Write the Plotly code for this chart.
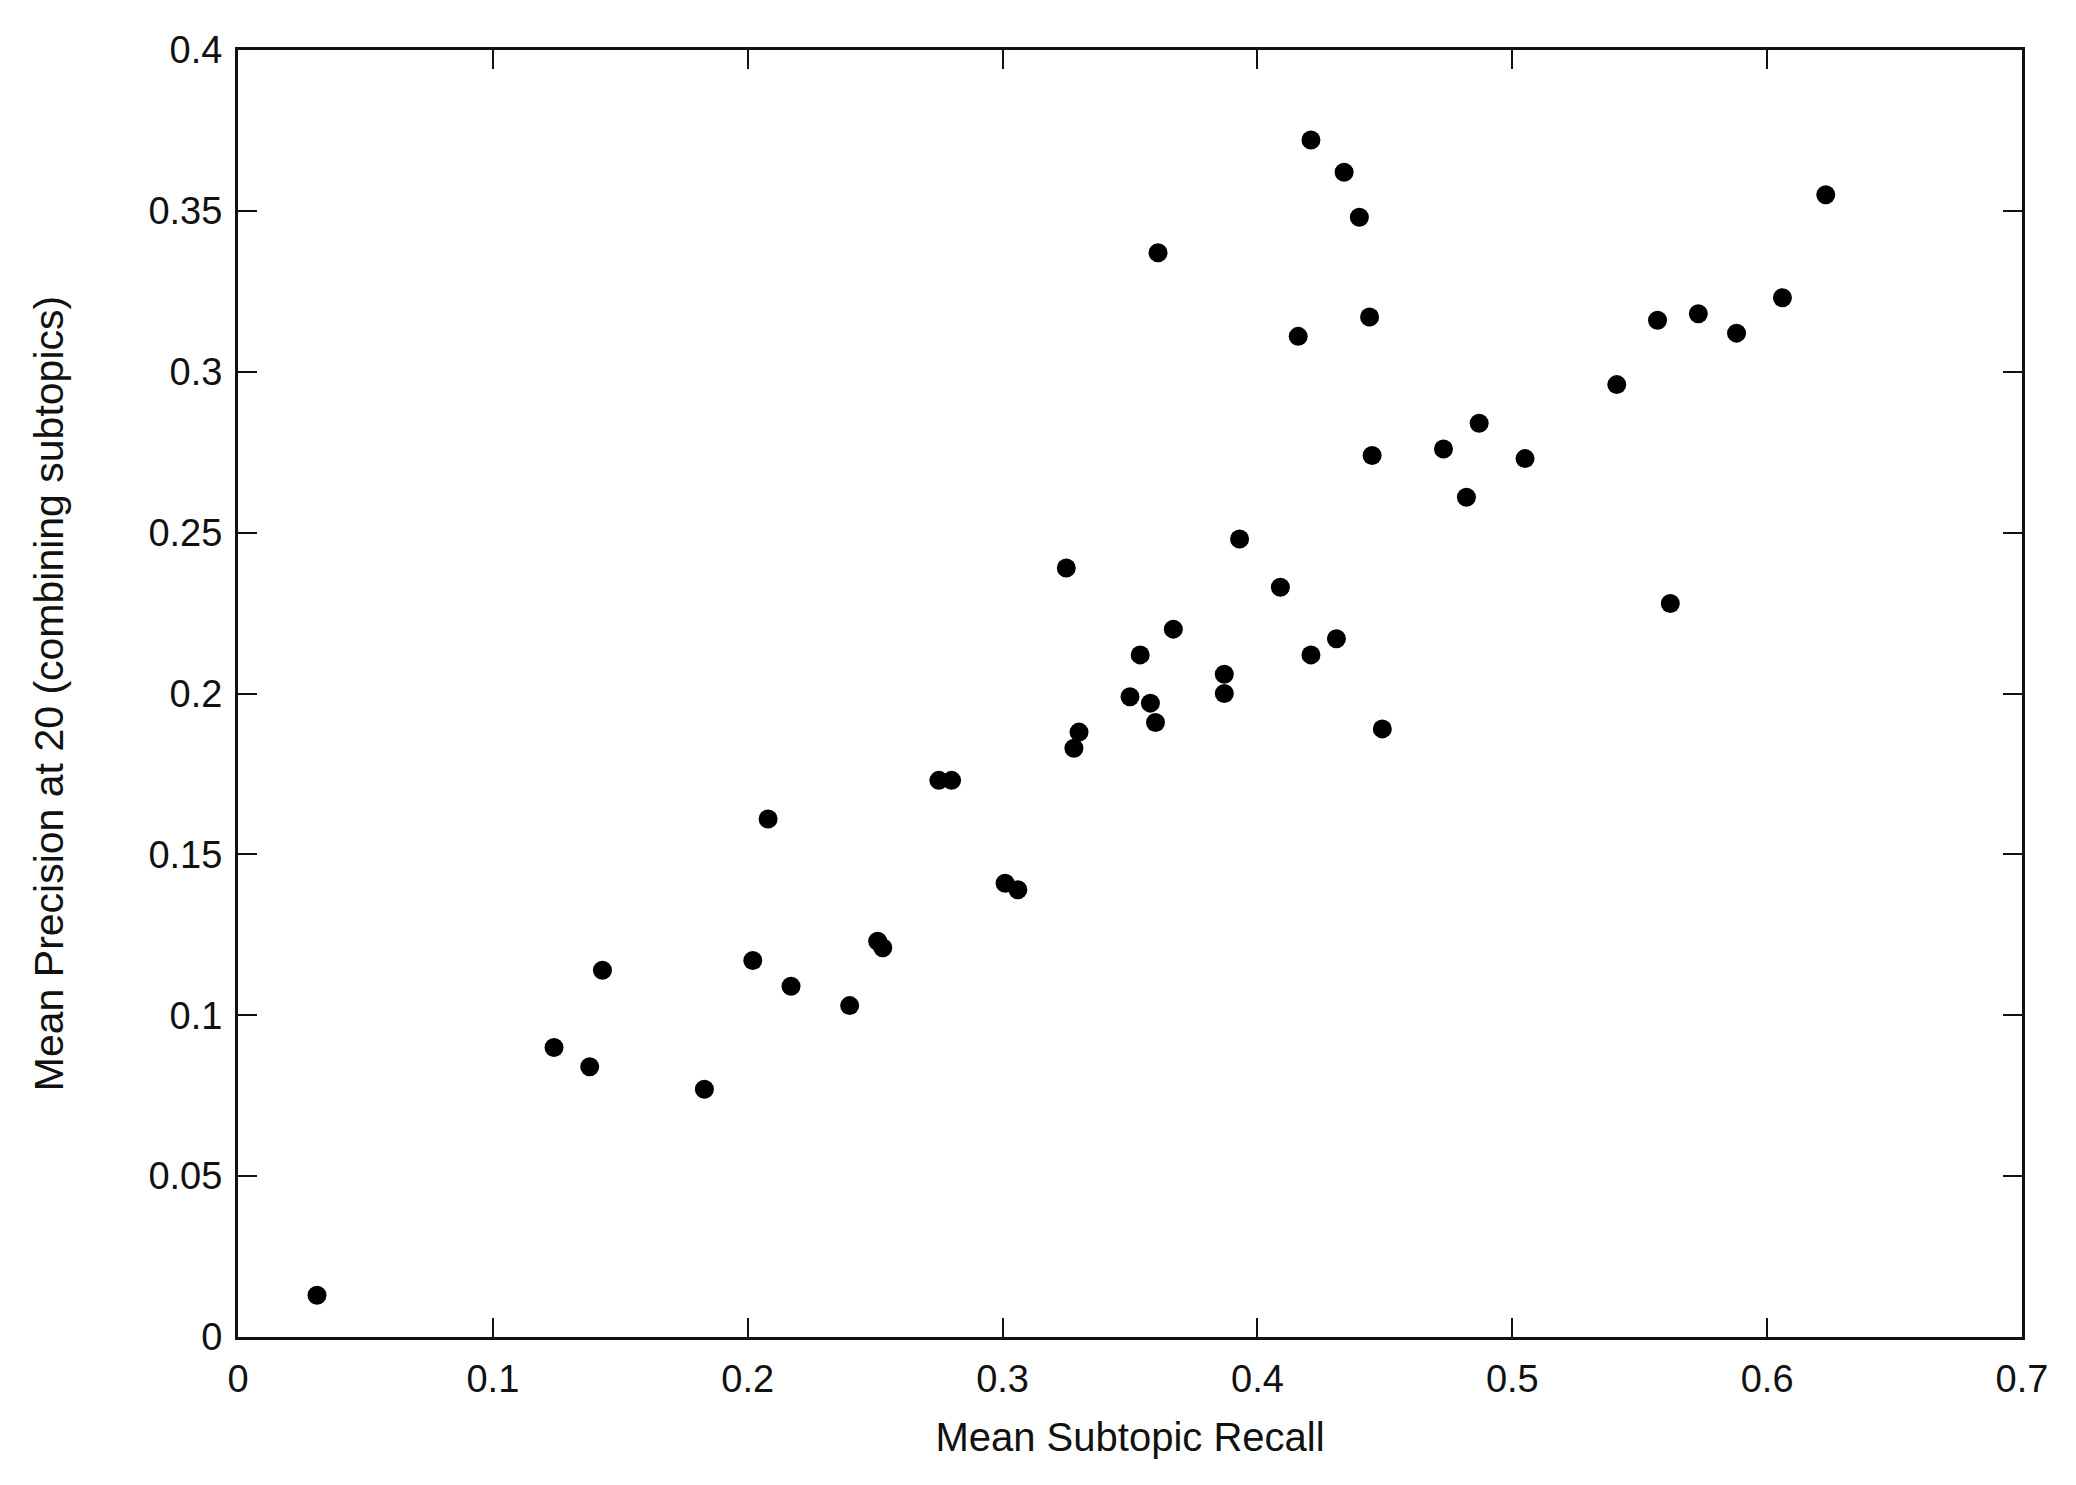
import plotly.graph_objects as go

recall = [0.031, 0.124, 0.138, 0.143, 0.183, 0.202, 0.208, 0.217, 0.240, 0.251,
          0.253, 0.275, 0.280, 0.301, 0.306, 0.325, 0.328, 0.330, 0.350, 0.354,
          0.358, 0.360, 0.361, 0.367, 0.387, 0.387, 0.393, 0.409, 0.416, 0.421,
          0.421, 0.431, 0.434, 0.440, 0.444, 0.445, 0.449, 0.473, 0.482, 0.487,
          0.505, 0.541, 0.557, 0.562, 0.573, 0.588, 0.606, 0.623]
precision = [0.013, 0.090, 0.084, 0.114, 0.077, 0.117, 0.161, 0.109, 0.103, 0.123,
             0.121, 0.173, 0.173, 0.141, 0.139, 0.239, 0.183, 0.188, 0.199, 0.212,
             0.197, 0.191, 0.337, 0.220, 0.206, 0.200, 0.248, 0.233, 0.311, 0.212,
             0.372, 0.217, 0.362, 0.348, 0.317, 0.274, 0.189, 0.276, 0.261, 0.284,
             0.273, 0.296, 0.316, 0.228, 0.318, 0.312, 0.323, 0.355]

x_ticks = [0, 0.1, 0.2, 0.3, 0.4, 0.5, 0.6, 0.7]
x_labels = ["0", "0.1", "0.2", "0.3", "0.4", "0.5", "0.6", "0.7"]
y_ticks = [0, 0.05, 0.1, 0.15, 0.2, 0.25, 0.3, 0.35, 0.4]
y_labels = ["0", "0.05", "0.1", "0.15", "0.2", "0.25", "0.3", "0.35", "0.4"]

fig = go.Figure()
fig.add_trace(go.Scatter(
    x=recall, y=precision, mode="markers",
    marker=dict(color="black", size=19, line=dict(width=0)),
    showlegend=False,
))

font = "Liberation Sans, Arial, sans-serif"
axis_common = dict(
    showline=True, linecolor="#111", linewidth=3, mirror="ticks",
    ticks="inside", ticklen=19, tickwidth=2, tickcolor="#111",
    showgrid=False, zeroline=False,
    tickfont=dict(family=font, size=38, color="#111"),
)

fig.update_layout(
    width=2076, height=1485,
    margin=dict(l=230, r=62, t=42, b=156),
    plot_bgcolor="white", paper_bgcolor="white",
    xaxis=dict(range=[0, 0.7], tickvals=x_ticks, ticktext=x_labels,
               title=dict(text="Mean Subtopic Recall",
                          font=dict(family=font, size=40, color="#111"),
                          standoff=25),
               ticklabelstandoff=6,
               **axis_common),
    yaxis=dict(range=[0, 0.4], tickvals=y_ticks, ticktext=y_labels,
               title=dict(text="Mean Precision at 20 (combining subtopics)",
                          font=dict(family=font, size=41, color="#111"),
                          standoff=73),
               ticklabelstandoff=5,
               **axis_common),
)

fig.write_html("out.html")
